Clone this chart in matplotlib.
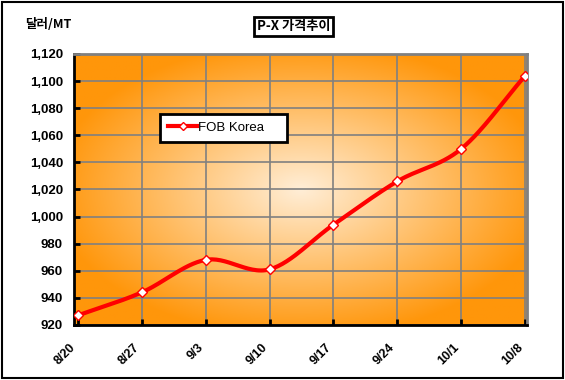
import numpy as np
import matplotlib.pyplot as plt
from matplotlib.patches import Rectangle
from matplotlib.lines import Line2D

plt.rcParams['font.family'] = ['Liberation Sans', 'Noto Sans CJK KR', 'DejaVu Sans']

dates = ['8/20', '8/27', '9/3', '9/10', '9/17', '9/24', '10/1', '10/8']
fob_korea = [927, 944, 968, 961, 994, 1026, 1050, 1104]
yticks = list(range(920, 1121, 20))


def smooth(y, n=30):
    # Catmull-Rom style smoothing like an Excel smoothed line
    y = np.asarray(y, dtype=float)
    x = np.arange(len(y), dtype=float)
    px = np.concatenate([[2 * x[0] - x[1]], x, [2 * x[-1] - x[-2]]])
    py = np.concatenate([[2 * y[0] - y[1]], y, [2 * y[-1] - y[-2]]])
    xs, ys = [], []
    for i in range(1, len(px) - 2):
        t = np.linspace(0, 1, n, endpoint=False)
        for arr, out in ((px, xs), (py, ys)):
            p0, p1, p2, p3 = arr[i - 1:i + 3]
            out.extend(0.5 * ((2 * p1) + (-p0 + p2) * t +
                              (2 * p0 - 5 * p1 + 4 * p2 - p3) * t ** 2 +
                              (-p0 + 3 * p1 - 3 * p2 + p3) * t ** 3))
    xs.append(x[-1])
    ys.append(y[-1])
    return np.array(xs), np.array(ys)


fig = plt.figure(figsize=(5.65, 3.8), dpi=100)
fig.patch.set_facecolor('white')
fig.patches.append(Rectangle((0.004, 0.005), 0.992, 0.99, transform=fig.transFigure,
                             fill=False, edgecolor='black', linewidth=1.5))

ax = fig.add_axes([0.131, 0.145, 0.802, 0.713])
x0, x1 = -0.06, 7.03
ax.set_xlim(x0, x1)
ax.set_ylim(920, 1120)

# radial orange gradient background
gx, gy = np.meshgrid(np.linspace(-1, 1, 300), np.linspace(-1, 1, 200))
r = np.clip(np.sqrt(gx ** 2 + gy ** 2) / 1.1, 0, 1)
c_in = np.array([255, 238, 215]) / 255
c_out = np.array([255, 150, 10]) / 255
img = c_in[None, None, :] * (1 - r[..., None]) + c_out[None, None, :] * r[..., None]
ax.imshow(img, extent=[x0, x1, 920, 1120], aspect='auto', zorder=0, origin='lower')

for yv in yticks:
    ax.axhline(yv, color='#808080', lw=1.2, zorder=1)
for i in range(1, len(dates)):
    ax.axvline(i, color='#808080', lw=1.2, zorder=1)

sx, sy = smooth(fob_korea)
ax.plot(sx, sy, color='#ff0000', lw=3, zorder=3)
ax.plot(range(len(dates)), fob_korea, ls='none', marker='D', ms=5,
        mfc='white', mec='#ff0000', mew=1, zorder=4)

ax.set_xticks(range(len(dates)))
ax.set_xticklabels(dates, rotation=45, ha='right', fontsize=9, fontweight='bold')
ax.tick_params(axis='x', length=4, width=2, direction='in', pad=12)
ax.set_yticks(yticks)
ax.set_yticklabels([f'{v:,}' for v in yticks], fontsize=9.5, fontweight='bold')
ax.tick_params(axis='y', length=4, width=2, direction='in', pad=8)

for s in ('left', 'bottom'):
    ax.spines[s].set_linewidth(2)
    ax.spines[s].set_color('black')
for s in ('top', 'right'):
    ax.spines[s].set_linewidth(2)
    ax.spines[s].set_color('#808080')

fig.text(0.045, 0.925, '달러/MT', fontsize=9, fontweight='bold',
         family=['Noto Sans CJK KR', 'DejaVu Sans'])
fig.text(0.52, 0.92, 'P-X 가격추이', fontsize=9.5, fontweight='bold', ha='center',
         family=['Noto Sans CJK KR', 'DejaVu Sans'],
         bbox=dict(boxstyle='square,pad=0.2', fc='white', ec='black', lw=2))

handle = Line2D([], [], color='#ff0000', lw=3, marker='D', ms=4, mfc='white', mec='#ff0000')
leg = ax.legend([handle], ['FOB Korea    '], loc='upper left', bbox_to_anchor=(0.19, 0.78),
                frameon=True, fancybox=False, edgecolor='black', framealpha=1,
                handlelength=2.2, handletextpad=0.1, borderpad=0.6, borderaxespad=0,
                prop={'size': 9.5})
leg.get_frame().set_linewidth(2)
leg.set_zorder(5)

fig.savefig('out.png', dpi=100)
